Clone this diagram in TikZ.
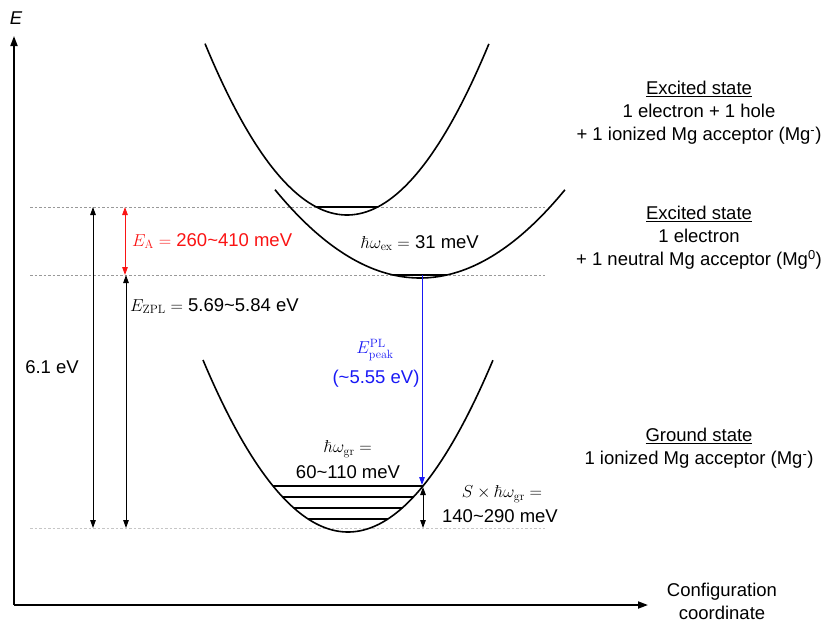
\documentclass[tikz,border=0pt]{standalone}
\usepackage[no-math]{fontspec}
\setmainfont{Liberation Sans}
\usetikzlibrary{arrows.meta}
\definecolor{plblue}{RGB}{25,25,245}
\definecolor{eared}{RGB}{250,20,20}
\begin{document}
\begin{tikzpicture}[x=1pt,y=-1pt,
  font=\fontsize{18.5}{23}\selectfont,
  axis/.style={line width=1.8pt,-{Triangle[length=10pt,width=7pt]}},
  curve/.style={line width=1.6pt},
  level/.style={line width=1.1pt},
  guide/.style={gray!80,line width=0.8pt,dash pattern=on 2.5pt off 2pt},
  dimarrow/.style={line width=1pt,{Triangle[length=8pt,width=5.5pt]}-{Triangle[length=8pt,width=5.5pt]}},
  onearrow/.style={line width=1pt,-{Triangle[length=8pt,width=5.5pt]}},
  lbl/.style={inner sep=0pt}]
\useasboundingbox (0,0) rectangle (826,622);
% axes
\coordinate (o) at (14,605);
\coordinate (ytop) at (14,36);
\coordinate (xend) at (648,605);
\draw[axis] (o) -- (ytop);
\draw[axis] (o) -- (xend);
\node[lbl,font=\fontsize{18.5}{23}\selectfont\itshape] (elab) at (16,18) {E};
\node[lbl,align=center] (cfg) at (722,601) {Configuration\\coordinate};
% guide lines
\coordinate (g1l) at (30,207); \coordinate (g1r) at (545,207);
\coordinate (g2l) at (30,275); \coordinate (g2r) at (545,275);
\coordinate (g3l) at (30,528); \coordinate (g3r) at (545,528);
\draw[guide] (g1l) -- (g1r);
\draw[guide] (g2l) -- (g2r);
\draw[guide,gray!45] (g3l) -- (g3r);
% parabolas
\draw[curve] plot[domain=-1.42:1.42,samples=80] ({347+100*\x},{215-85*\x*\x});
\draw[curve] plot[domain=-1.45:1.45,samples=80] ({420+100*\x},{278-42*\x*\x});
\draw[curve] plot[domain=-1.45:1.45,samples=80] ({348+100*\x},{532-81.8*\x*\x});
% vibrational levels
\coordinate (u1) at (316.3,207); \coordinate (u2) at (377.7,207);
\draw[level] (u1) -- (u2);
\coordinate (m1) at (393.3,275); \coordinate (m2) at (446.7,275);
\draw[level] (m1) -- (m2);
\coordinate (l1a) at (273,486); \coordinate (l1b) at (423,486);
\coordinate (l2a) at (282.6,497); \coordinate (l2b) at (413.4,497);
\coordinate (l3a) at (293.8,508); \coordinate (l3b) at (402.2,508);
\coordinate (l4a) at (308.1,519); \coordinate (l4b) at (387.9,519);
\draw[level] (l1a) -- (l1b);
\draw[level] (l2a) -- (l2b);
\draw[level] (l3a) -- (l3b);
\draw[level] (l4a) -- (l4b);
% energy arrows
\coordinate (a1t) at (93,207); \coordinate (a1b) at (93,528);
\draw[dimarrow] (a1b) -- (a1t);
\node[lbl] (tot) at (52,367) {6.1 eV};
\coordinate (a2t) at (126,275); \coordinate (a2b) at (126,528);
\draw[dimarrow] (a2b) -- (a2t);
\node[lbl,anchor=west] (zpl) at (130,306) {$E_{\mathrm{ZPL}} =$ 5.69\textasciitilde5.84 eV};
\coordinate (a3t) at (125,207); \coordinate (a3b) at (125,275);
\draw[dimarrow,eared] (a3b) -- (a3t);
\node[lbl,anchor=west,text=eared] (ea) at (132,241) {$E_{\mathrm{A}} =$ 260\textasciitilde410 meV};
\node[lbl] (hex) at (420,243) {$\hbar\omega_{\mathrm{ex}} =$ 31 meV};
% PL transition
\coordinate (plt) at (422,275); \coordinate (plb) at (422,485);
\draw[onearrow,plblue] (plt) -- (plb);
\node[lbl,text=plblue] (epk) at (375,350) {$E_{\mathrm{peak}}^{\mathrm{PL}}$};
\node[lbl,text=plblue] (epv) at (376,379) {(\textasciitilde5.55 eV)};
% ground phonon
\node[lbl] (hgr1) at (348,449) {$\hbar\omega_{\mathrm{gr}} =$};
\node[lbl] (hgr2) at (348,472) {60\textasciitilde110 meV};
\coordinate (st) at (423,487); \coordinate (sb) at (423,528);
\draw[dimarrow] (sb) -- (st);
\node[lbl] (s1) at (502,494) {$S\times\hbar\omega_{\mathrm{gr}} =$};
\node[lbl] (s2) at (500,516) {140\textasciitilde290 meV};
% state descriptions
\node[lbl,align=center] (ex1) at (699,113) {\underline{Excited state}\\1 electron + 1 hole\\+ 1 ionized Mg acceptor (Mg\textsuperscript{-})};
\node[lbl,align=center] (ex2) at (699,238) {\underline{Excited state}\\1 electron\\+ 1 neutral Mg acceptor (Mg\textsuperscript{0})};
\node[lbl,align=center] (gs) at (699,448) {\underline{Ground state}\\1 ionized Mg acceptor (Mg\textsuperscript{-})};
\end{tikzpicture}
\end{document}
